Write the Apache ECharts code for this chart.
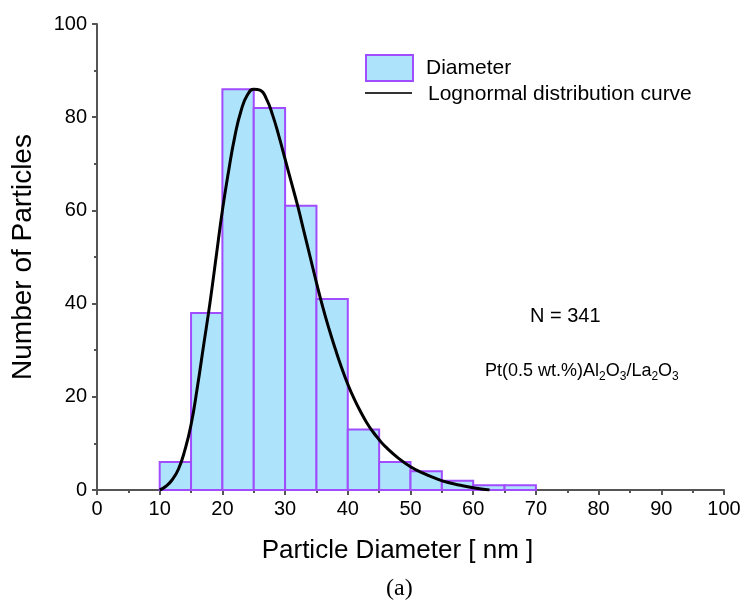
<!DOCTYPE html>
<html>
<head>
<meta charset="utf-8">
<script src="https://cdn.jsdelivr.net/npm/echarts@6/dist/echarts.min.js"></script>
<style>
html,body{margin:0;padding:0;background:#fff;}
#chart{width:745px;height:607px;}
</style>
</head>
<body>
<div id="chart"></div>
<script>
// Histogram bins (nm) and counts
const binStarts = [10, 15, 20, 25, 30, 35, 40, 45, 50, 55, 60, 65];
const binWidth = 5;
const counts = [6, 38, 86, 82, 61, 41, 13, 6, 4, 2, 1, 1];

// Lognormal fit curve
const curveX = [10, 11, 12, 13, 14, 15, 16, 17, 18, 19, 20, 21, 22, 23, 24, 25, 26, 27, 28, 29, 30, 31, 32, 33, 34, 35, 36, 37, 38, 39, 40, 41, 42, 43, 44, 45, 46, 48, 50, 52, 54, 56, 58, 60, 62.6];
const curveY = [0, 0.8, 2.2, 4.5, 8.5, 14, 22, 31, 40, 50, 60, 68.5, 76, 81.5, 84.8, 86, 85.8, 84, 80.5, 76, 71, 66, 61, 55.5, 50, 44.5, 39.3, 34.6, 30.3, 26.3, 22.7, 19.6, 16.9, 14.5, 12.5, 10.8, 9.3, 6.9, 5.0, 3.6, 2.5, 1.6, 1.0, 0.5, 0];

const xTicks = [0, 10, 20, 30, 40, 50, 60, 70, 80, 90, 100];
const yTicks = [0, 20, 40, 60, 80, 100];
const legendNames = ['Diameter', 'Lognormal distribution curve'];

const histData = binStarts.map((s, i) => [s, s + binWidth, counts[i]]);
const curveData = curveX.map((x, i) => [x, curveY[i]]);

const FONT = '"Liberation Sans", Arial, sans-serif';
const FILL = '#ade3fb';
const EDGE = '#a04cff';
const chart = echarts.init(document.getElementById('chart'));

chart.setOption({
  animation: false,
  backgroundColor: '#fff',
  grid: { left: 97, right: 21, top: 24, bottom: 117, containLabel: false },
  xAxis: {
    type: 'value', min: xTicks[0], max: xTicks[xTicks.length - 1], interval: 10,
    name: 'Particle Diameter [ nm ]', nameLocation: 'middle', nameGap: 48,
    nameTextStyle: { fontFamily: FONT, fontSize: 26, color: '#000', padding: [0, 26, 0, 0] },
    axisLine: { show: true, onZero: false, lineStyle: { color: '#555', width: 2 } },
    axisTick: { show: true, length: 5, lineStyle: { color: '#555', width: 2 } },
    minorTick: { show: true, splitNumber: 2, length: 3, lineStyle: { color: '#555', width: 2 } },
    splitLine: { show: false },
    axisLabel: { fontFamily: FONT, fontSize: 20, color: '#000', margin: 9 }
  },
  yAxis: {
    type: 'value', min: yTicks[0], max: yTicks[yTicks.length - 1], interval: 20,
    name: 'Number of Particles', nameLocation: 'middle', nameGap: 60, nameRotate: 90,
    nameTextStyle: { fontFamily: FONT, fontSize: 28, color: '#000' },
    axisLine: { show: true, onZero: false, lineStyle: { color: '#555', width: 2 } },
    axisTick: { show: true, length: 5, lineStyle: { color: '#555', width: 2 } },
    minorTick: { show: true, splitNumber: 2, length: 3, lineStyle: { color: '#555', width: 2 } },
    splitLine: { show: false },
    axisLabel: { fontFamily: FONT, fontSize: 20, color: '#000', margin: 10 }
  },
  series: [
    {
      name: legendNames[0],
      type: 'custom',
      data: histData,
      encode: { x: [0, 1], y: 2 },
      itemStyle: { color: FILL, borderColor: EDGE, borderWidth: 2 },
      renderItem: function (params, api) {
        const p0 = api.coord([api.value(0), api.value(2)]);
        const p1 = api.coord([api.value(1), 0]);
        return {
          type: 'rect',
          shape: { x: p0[0], y: p0[1], width: p1[0] - p0[0], height: p1[1] - p0[1] },
          style: { fill: FILL, stroke: EDGE, lineWidth: 2 }
        };
      }
    },
    {
      name: legendNames[1],
      type: 'line',
      data: curveData,
      smooth: 0.5,
      symbol: 'none',
      lineStyle: { color: '#000', width: 3 },
      z: 5
    }
  ],
  graphic: [
    // legend
    {
      type: 'rect', left: 365, top: 54,
      shape: { width: 47, height: 26 },
      style: { fill: FILL, stroke: EDGE, lineWidth: 2 }
    },
    {
      type: 'text', left: 426, top: 58,
      style: { text: legendNames[0], font: '21px "Liberation Sans", Arial, sans-serif', fill: '#000' }
    },
    {
      type: 'line',
      shape: { x1: 365, y1: 93, x2: 412, y2: 93 },
      style: { stroke: '#333', lineWidth: 2 }
    },
    {
      type: 'text', left: 428, top: 84,
      style: { text: legendNames[1], font: '21px "Liberation Sans", Arial, sans-serif', fill: '#000' }
    },
    // annotations
    {
      type: 'text', left: 530, top: 306,
      style: { text: 'N = 341', font: '20px "Liberation Sans", Arial, sans-serif', fill: '#000' }
    },
    {
      type: 'text', left: 485, top: 362,
      style: {
        text: 'Pt(0.5 wt.%)Al{s|2}O{s|3}/La{s|2}O{s|3}',
        font: '18px "Liberation Sans", Arial, sans-serif', fill: '#000',
        rich: { s: { fontSize: 12, fontFamily: FONT, fill: '#000', padding: [12, 0, 0, 0] } }
      }
    },
    {
      type: 'text', left: 386, top: 577,
      style: { text: '(a)', font: '24px "Liberation Serif", "Times New Roman", serif', fill: '#000' }
    }
  ]
});
</script>
</body>
</html>
